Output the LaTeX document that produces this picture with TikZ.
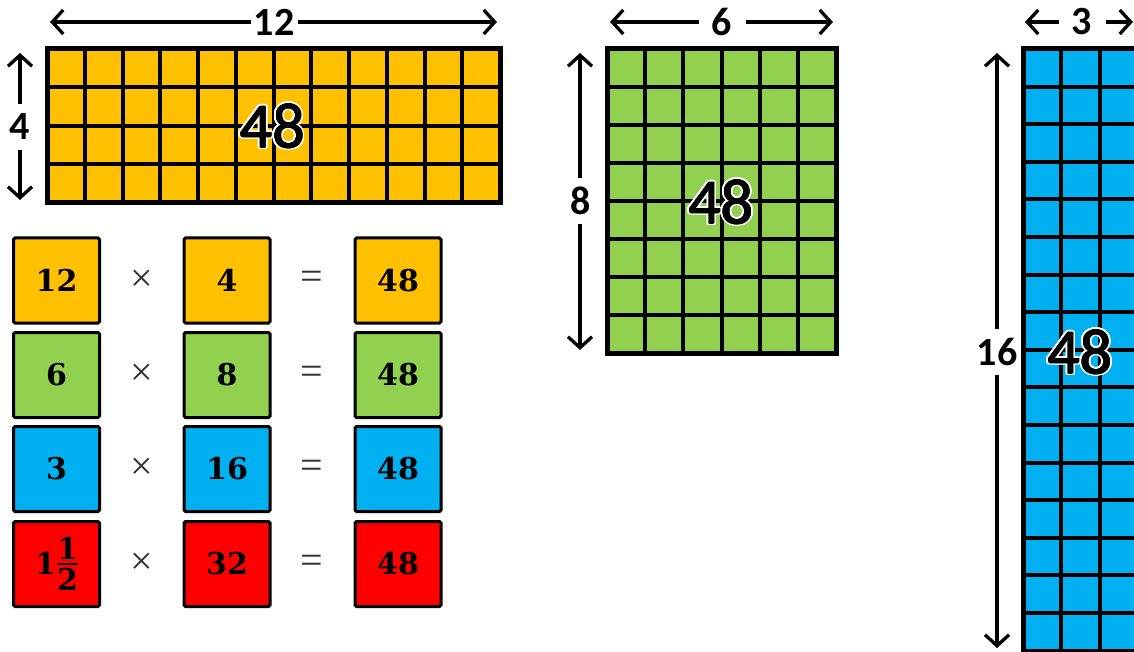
\documentclass[tikz,border=0pt]{standalone}
\usepackage{fontspec}
\setmainfont{Liberation Serif}
\newfontfamily\calib{Carlito}
\newfontfamily\eqfont{DejaVu Serif}
\usetikzlibrary{arrows.meta}
\definecolor{cOrange}{HTML}{FFC000}
\definecolor{cGreen}{HTML}{92D050}
\definecolor{cBlue}{HTML}{00B0F0}
\definecolor{cRed}{HTML}{FF0000}
\definecolor{opgray}{HTML}{333333}
\tikzset{
  dimarrow/.style={line width=3.3pt,
    {Straight Barb[length=11pt,width=24pt]}-{Straight Barb[length=11pt,width=24pt]}},
  dimlabel/.style={fill=white, inner sep=0pt, minimum width=47pt, minimum height=46pt,
    font=\calib\bfseries\fontsize{40}{40}\selectfont},
  eqbox/.style={draw=black, line width=3pt, rounded corners=1.5pt,
    minimum width=86pt, minimum height=85pt, inner sep=0pt,
    font=\eqfont\bfseries\fontsize{30}{36}\selectfont},
  opsym/.style={text=opgray, inner sep=0pt, font=\fontsize{40}{40}\selectfont},
  gridline/.style={line width=4pt},
  gridborder/.style={line width=5pt},
  bignum/.style={inner sep=0pt, font=\calib\fontsize{64}{64}\selectfont},
}
\newcommand\haloNum[2]{%
  \foreach \a in {0,20,...,340}{\node[bignum,text=white] at ([shift={(\a:2.4pt)}]#1) {48};}
  \foreach \a in {0,60,...,300}{\node[bignum] at ([shift={(\a:0.5pt)}]#1) {48};}
  \node[bignum] (#2) at (#1) {48};}
\newcommand\mixedhalf{1\hspace{1pt}\raisebox{-16.5pt}{\vbox{\hbox to 21pt{\hss 1\hss}\kern3.5pt
  \hrule height 2.4pt\kern3.5pt\hbox to 21pt{\hss 2\hss}}}}
\begin{document}
\begin{tikzpicture}[x=1pt,y=-1pt]
\clip (0,0) rectangle (1134,652);
\fill[white] (0,0) rectangle (1134,652);

% ---------- orange 12 x 4 ----------
\fill[cOrange] (47,49) rectangle (500,203);
\foreach \i in {1,...,11} \draw[gridline] ({47+\i*37.75},49) -- ({47+\i*37.75},203);
\foreach \j in {1,2,3} \draw[gridline] (47,{49+\j*38.5}) -- (500,{49+\j*38.5});
\draw[gridborder] (47,49) rectangle (500,203);
\coordinate (oc) at (272.5,126);
\haloNum{oc}{onum}
\coordinate (oha) at (50,22);
\coordinate (ohb) at (497,22);
\coordinate (ova) at (20,53);
\coordinate (ovb) at (20,200);
\draw[dimarrow] (oha) -- (ohb);
\draw[dimarrow] (ova) -- (ovb);
\node[dimlabel] (o12) at (274,22) {12};
\node[dimlabel] (o4) at (20,127) {4};

% ---------- green 6 x 8 ----------
\fill[cGreen] (607,49) rectangle (836,353);
\foreach \i in {1,...,5} \draw[gridline] ({607+\i*38.17},49) -- ({607+\i*38.17},353);
\foreach \j in {1,...,7} \draw[gridline] (607,{49+\j*38}) -- (836,{49+\j*38});
\draw[gridborder] (607,49) rectangle (836,353);
\coordinate (gc) at (721,202);
\haloNum{gc}{gnum}
\coordinate (gha) at (610,22);
\coordinate (ghb) at (833,22);
\coordinate (gva) at (580,53);
\coordinate (gvb) at (580,350);
\draw[dimarrow] (gha) -- (ghb);
\draw[dimarrow] (gva) -- (gvb);
\node[dimlabel] (g6) at (722,22) {6};
\node[dimlabel] (g8) at (581,201) {8};

% ---------- blue 3 x 16 ----------
\fill[cBlue] (1023,49) rectangle (1138,651);
\foreach \i in {1,2} \draw[gridline] ({1023+\i*38.3},49) -- ({1023+\i*38.3},651);
\foreach \j in {1,...,15} \draw[gridline] (1023,{49+\j*37.6}) -- (1138,{49+\j*37.6});
\draw[gridborder] (1023,49) rectangle (1138,651);
\coordinate (bc) at (1080,352);
\haloNum{bc}{bnum}
\coordinate (bha) at (1025,22);
\coordinate (bhb) at (1133,22);
\coordinate (bva) at (997,53);
\coordinate (bvb) at (997,648);
\draw[dimarrow] (bha) -- (bhb);
\draw[dimarrow] (bva) -- (bvb);
\node[dimlabel] (b3) at (1082,22) {3};
\node[dimlabel] (b16) at (997,352) {16};

% ---------- equations ----------
\node[eqbox,fill=cOrange] (e11) at (56.5,280.5) {12};
\node[opsym] (x1) at (142,280.5) {×};
\node[eqbox,fill=cOrange] (e12) at (227,280.5) {4};
\node[opsym] (q1) at (312,280.5) {=};
\node[eqbox,fill=cOrange] (e13) at (398,280.5) {48};

\node[eqbox,fill=cGreen] (e21) at (56.5,375) {6};
\node[opsym] (x2) at (142,375) {×};
\node[eqbox,fill=cGreen] (e22) at (227,375) {8};
\node[opsym] (q2) at (312,375) {=};
\node[eqbox,fill=cGreen] (e23) at (398,375) {48};

\node[eqbox,fill=cBlue] (e31) at (56.5,469) {3};
\node[opsym] (x3) at (142,469) {×};
\node[eqbox,fill=cBlue] (e32) at (227,469) {16};
\node[opsym] (q3) at (312,469) {=};
\node[eqbox,fill=cBlue] (e33) at (398,469) {48};

\node[eqbox,fill=cRed] (e41) at (56.5,564) {\mixedhalf};
\node[opsym] (x4) at (142,564) {×};
\node[eqbox,fill=cRed] (e42) at (227,564) {32};
\node[opsym] (q4) at (312,564) {=};
\node[eqbox,fill=cRed] (e43) at (398,564) {48};
\end{tikzpicture}
\end{document}
